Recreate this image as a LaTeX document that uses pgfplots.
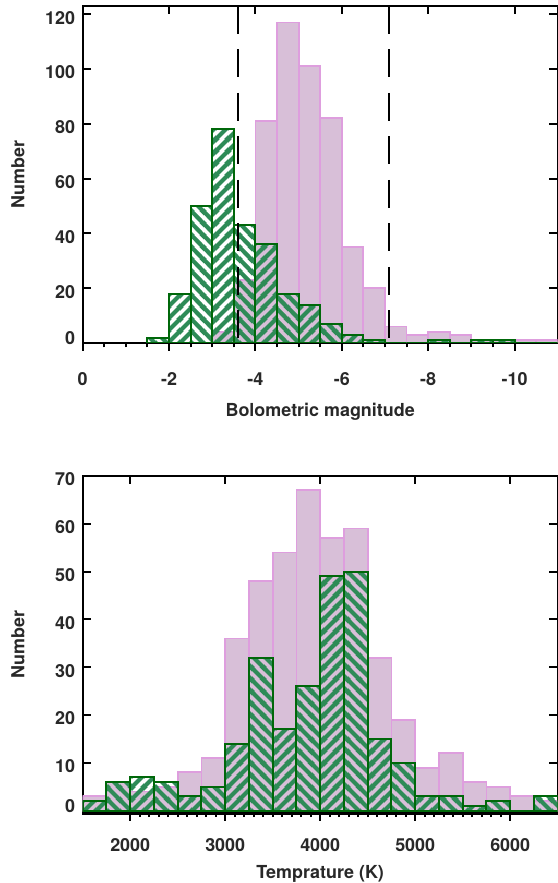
\documentclass[border=0pt]{standalone}
\usepackage{fontspec}
\setmainfont{TeX Gyre Heros}
\usepackage{pgfplots}
\usepackage{pgfplotstable}
\pgfplotsset{compat=1.18}
\usetikzlibrary{patterns}

\definecolor{barpink}{RGB}{216,191,216}
\definecolor{edgepink}{RGB}{222,158,222}
\definecolor{edgegreen}{RGB}{0,104,10}
\definecolor{hatchgreen}{RGB}{46,139,87}
\definecolor{txt}{RGB}{40,40,40}

\newcommand\lab{\fontsize{18}{21}\selectfont\bfseries}

% thick diagonal hatching on an axis-aligned 12bp tile
\pgfdeclarepatternformonly{thick ne}{\pgfqpoint{0bp}{0bp}}{\pgfqpoint{12bp}{12bp}}{\pgfqpoint{12bp}{12bp}}{%
  \pgfsetlinewidth{4.4bp}%
  \pgfpathmoveto{\pgfqpoint{-3bp}{-3bp}}\pgfpathlineto{\pgfqpoint{15bp}{15bp}}%
  \pgfpathmoveto{\pgfqpoint{-15bp}{-3bp}}\pgfpathlineto{\pgfqpoint{3bp}{15bp}}%
  \pgfpathmoveto{\pgfqpoint{9bp}{-3bp}}\pgfpathlineto{\pgfqpoint{27bp}{15bp}}%
  \pgfusepath{stroke}}
\pgfdeclarepatternformonly{thick nw}{\pgfqpoint{0bp}{0bp}}{\pgfqpoint{12bp}{12bp}}{\pgfqpoint{12bp}{12bp}}{%
  \pgfsetlinewidth{4.4bp}%
  \pgfpathmoveto{\pgfqpoint{-3bp}{15bp}}\pgfpathlineto{\pgfqpoint{15bp}{-3bp}}%
  \pgfpathmoveto{\pgfqpoint{-15bp}{15bp}}\pgfpathlineto{\pgfqpoint{3bp}{-3bp}}%
  \pgfpathmoveto{\pgfqpoint{9bp}{15bp}}\pgfpathlineto{\pgfqpoint{27bp}{-3bp}}%
  \pgfusepath{stroke}}

% ---------- bolometric magnitude histograms (bin width 0.5 mag) ----------
\pgfplotstableread{
x y
-3.25 4
-3.75 23
-4.25 81
-4.75 117
-5.25 101
-5.75 82
-6.25 35
-6.75 20
-7.25 6
-7.75 3
-8.25 4
-8.75 3
-9.25 1
-9.75 1
-10.25 1
-10.75 1
}\magAll
% hatched sample, bins hatched "/"
\pgfplotstableread{
x y
-2.25 18
-3.25 78
-4.25 36
-5.25 14
-6.25 3
-7.25 0
-8.25 1
-9.25 1
-10.25 0
}\magSubA
% hatched sample, bins hatched "\"
\pgfplotstableread{
x y
-1.75 2
-2.75 50
-3.75 43
-4.75 18
-5.75 7
-6.75 1
-7.75 0
-8.75 0
-9.75 1
-10.75 0
}\magSubB

% ---------- temperature histograms (bin width 250 K) ----------
\pgfplotstableread{
x y
1625 3
1875 6
2125 4
2375 5
2625 8
2875 11
3125 36
3375 48
3625 54
3875 67
4125 57
4375 59
4625 32
4875 19
5125 9
5375 12
5625 6
5875 5
6125 3
6375 2
}\tempAll
\pgfplotstableread{
x y
1625 2
2125 7
2625 3
3125 14
3625 17
4125 49
4625 15
5125 3
5625 1
6125 0
}\tempSubA
\pgfplotstableread{
x y
1875 6
2375 6
2875 5
3375 32
3875 26
4375 50
4875 10
5375 3
5875 2
6375 3
}\tempSubB

\tikzset{
  hatchA/.style={pattern=thick ne, pattern color=hatchgreen},
  hatchB/.style={pattern=thick nw, pattern color=hatchgreen},
}

\pgfplotsset{
  panel/.style={
    scale only axis, width=475bp, anchor=south west,
    axis line style={line width=2bp, black},
    tick style={line width=2bp, black},
    ticklabel style={font=\lab, text=txt},
    label style={font=\lab, text=txt},
    /pgf/number format/assume math mode=true,
  },
  frame/.style={panel, tick align=outside, xtick pos=bottom, ytick=\empty},
  inner/.style={panel, tick align=inside, xtick pos=top, xticklabels={},
    ytick pos=both, yticklabel pos=left, major tick length=8.5bp,
    yticklabel style={anchor=base east, inner xsep=0pt, xshift=-7.5bp, yshift=-9.9bp},
    ylabel={Number}},
  allbars/.style={ybar, bar shift=0pt, fill=barpink, draw=edgepink, line width=1.8bp},
  subbars/.style={ybar, bar shift=0pt, draw=edgegreen, line width=2bp},
}

\begin{document}
\begin{tikzpicture}
\path[use as bounding box] (0,0) rectangle (558bp,883bp);

% ===== upper panel: frame with outward bottom ticks =====
\begin{axis}[frame, at={(82.7bp,540bp)}, height=337bp,
  x dir=reverse, xmin=-11, xmax=0, ymin=0, ymax=123,
  xtick={0,-2,-4,-6,-8,-10}, xticklabels={0,-2,-4,-6,-8,-10},
  minor x tick num=3, major tick length=8bp, minor tick length=4.5bp,
  xticklabel style={anchor=base, yshift=-35bp},
  xlabel={Bolometric magnitude},
  xlabel style={at={(axis description cs:0.5,0)}, anchor=base, yshift=-74bp},
]
\end{axis}
% ===== upper panel: data =====
\begin{axis}[inner, at={(82.7bp,540bp)}, height=337bp,
  x dir=reverse, xmin=-11, xmax=0, ymin=0, ymax=123,
  xtick={0,-2,-4,-6,-8,-10}, ytick={0,20,...,120},
  yticklabels={\raisebox{8.5bp}{0},20,40,60,80,100,120},
  ylabel style={at={(axis description cs:-0.1362,0.5)}, anchor=center},
]
\addplot[allbars, bar width=0.5] table {\magAll};
\addplot[subbars, bar width=0.5, hatchA] table {\magSubA};
\addplot[subbars, bar width=0.5, hatchB] table {\magSubB};
\addplot[black, line width=2.3bp, dash pattern=on 28bp off 15.5bp] coordinates {(-3.6,123) (-3.6,0)};
\addplot[black, line width=2.3bp, dash pattern=on 28bp off 15.5bp] coordinates {(-7.1,123) (-7.1,0)};
\end{axis}

% ===== lower panel: frame with outward bottom ticks =====
\begin{axis}[frame, at={(82.7bp,69.5bp)}, height=337.5bp,
  xmin=1500, xmax=6500, ymin=-0.6, ymax=70,
  xtick={2000,3000,4000,5000,6000}, xticklabels={2000,3000,4000,5000,6000},
  minor x tick num=9, major tick length=7bp, minor tick length=3.5bp,
  xticklabel style={anchor=base, yshift=-30.5bp},
  xlabel={Temprature (K)},
  xlabel style={at={(axis description cs:0.5,0)}, anchor=base, yshift=-64.5bp},
]
\end{axis}
% ===== lower panel: data =====
\begin{axis}[inner, at={(82.7bp,69.5bp)}, height=337.5bp,
  xmin=1500, xmax=6500, ymin=-0.6, ymax=70,
  xtick={2000,3000,4000,5000,6000}, ytick={0,10,...,70},
  yticklabels={\raisebox{8.5bp}{0},10,20,30,40,50,60,70},
  ylabel style={at={(axis description cs:-0.1362,0.5)}, anchor=center},
]
\addplot[allbars, bar width=250] table {\tempAll};
\addplot[subbars, bar width=250, hatchA] table {\tempSubA};
\addplot[subbars, bar width=250, hatchB] table {\tempSubB};
\end{axis}
\end{tikzpicture}
\end{document}
